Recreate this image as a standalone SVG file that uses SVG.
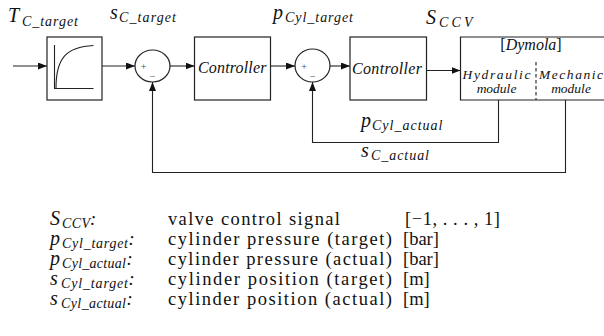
<svg xmlns="http://www.w3.org/2000/svg" width="604" height="336" viewBox="0 0 604 336">
<defs>
<marker id="arr" markerUnits="userSpaceOnUse" markerWidth="9" markerHeight="7" refX="9" refY="3.5" orient="auto">
<path d="M0,0 L9,3.5 L0,7 z" fill="#111"/>
</marker>
<style>
.box{fill:#fff;stroke:#222;stroke-width:1.2}
.ln{fill:none;stroke:#222;stroke-width:1.1}
.it{font-family:"Liberation Serif","DejaVu Serif",serif;font-style:italic;fill:#111}
.rm{font-family:"Liberation Serif","DejaVu Serif",serif;fill:#111}
.big{font-size:20px}
.sub{font-size:14px}
.blk{font-size:16px}
.dym{font-size:13.5px}
.sgn{font-size:10px;fill:#444}
.leg{font-size:18.5px}
</style>
</defs>
<rect width="604" height="336" fill="#fff"/>

<g id="connectors">
<path class="ln" d="M13,66 H47" marker-end="url(#arr)"/>
<path class="ln" d="M102,66 H135" marker-end="url(#arr)"/>
<path class="ln" d="M170,66 H194.5" marker-end="url(#arr)"/>
<path class="ln" d="M270.5,66 H295" marker-end="url(#arr)"/>
<path class="ln" d="M330,66 H350" marker-end="url(#arr)"/>
<path class="ln" d="M426.5,70.5 H460.5" marker-end="url(#arr)"/>
<path class="ln" d="M498.5,100 V142.5 H312.5 V82" marker-end="url(#arr)"/>
<path class="ln" d="M565.5,100 V172.5 H152.5 V82" marker-end="url(#arr)"/>
</g>

<g id="step">
<rect class="box" x="47" y="37" width="55" height="63"/>
<path class="ln" d="M54.5,45 V88.5 H93.5" stroke-width="1.4"/>
<path class="ln" d="M56,88 C56,58 66,47 93.5,45.5" stroke-width="1.3"/>
</g>

<g id="sum1">
<ellipse class="box" cx="152.5" cy="66" rx="17.5" ry="16"/>
<text class="rm sgn" x="143.5" y="69.5" text-anchor="middle">+</text>
<text class="rm sgn" x="152.5" y="80" text-anchor="middle">−</text>
</g>

<g id="controller1">
<rect class="box" x="194.5" y="37" width="76" height="63"/>
<text class="it blk" x="198" y="72.5" textLength="68.5" lengthAdjust="spacing">Controller</text>
</g>

<g id="sum2">
<ellipse class="box" cx="312.5" cy="65.5" rx="17.5" ry="16.5"/>
<text class="rm sgn" x="304" y="69.5" text-anchor="middle">+</text>
<text class="rm sgn" x="312.7" y="79.5" text-anchor="middle">−</text>
</g>

<g id="controller2">
<rect class="box" x="350" y="37" width="76.5" height="63"/>
<text class="it blk" x="352" y="73.5" textLength="70" lengthAdjust="spacing">Controller</text>
</g>

<g id="dymola">
<path class="box" d="M606,37 H460.5 V100 H606"/>
<line class="ln" x1="536" y1="62" x2="536" y2="100" stroke-dasharray="3.5,2.5"/>
<text class="rm blk" x="531" y="50" text-anchor="middle">[<tspan class="it">Dymola</tspan>]</text>
<text class="it dym" x="462.5" y="78.5" textLength="68" lengthAdjust="spacing">Hydraulic</text>
<text class="it dym" x="496.5" y="93" text-anchor="middle">module</text>
<text class="it dym" x="539" y="78.5" textLength="64" lengthAdjust="spacing">Mechanic</text>
<text class="it dym" x="571" y="93" text-anchor="middle">module</text>
</g>

<g id="labels">
<text class="it big" x="8" y="22">T<tspan class="sub" x="22" y="25.5" textLength="56" lengthAdjust="spacing">C_target</tspan></text>
<text class="it big" x="110" y="19">s<tspan class="sub" x="119" y="22" textLength="57" lengthAdjust="spacing">C_target</tspan></text>
<text class="it big" x="273" y="19">p<tspan class="sub" x="285" y="22" textLength="68" lengthAdjust="spacing">Cyl_target</tspan></text>
<text class="it big" x="426" y="24">S<tspan class="sub" x="439" y="27" textLength="33.5" lengthAdjust="spacing">CCV</tspan></text>
<text class="it big" x="361" y="127">p<tspan class="sub" x="372" y="130" textLength="70.5" lengthAdjust="spacing">Cyl_actual</tspan></text>
<text class="it big" x="361" y="157">s<tspan class="sub" x="371" y="160" textLength="58" lengthAdjust="spacing">C_actual</tspan></text>
</g>

<g id="legend">
<text class="it big" x="50" y="225">S<tspan class="sub" x="62" y="228" textLength="28" lengthAdjust="spacing">CCV</tspan><tspan class="rm leg" x="90" y="225">:</tspan></text>
<text class="it big" x="50" y="245">p<tspan class="sub" x="62" y="248" textLength="66" lengthAdjust="spacing">Cyl_target</tspan><tspan class="rm leg" x="128.5" y="245">:</tspan></text>
<text class="it big" x="50" y="265">p<tspan class="sub" x="62" y="268" textLength="64" lengthAdjust="spacing">Cyl_actual</tspan><tspan class="rm leg" x="126.5" y="265">:</tspan></text>
<text class="it big" x="50" y="285">s<tspan class="sub" x="61" y="288" textLength="67" lengthAdjust="spacing">Cyl_target</tspan><tspan class="rm leg" x="128.5" y="285">:</tspan></text>
<text class="it big" x="50" y="305">s<tspan class="sub" x="61" y="308" textLength="65" lengthAdjust="spacing">Cyl_actual</tspan><tspan class="rm leg" x="126.5" y="305">:</tspan></text>

<text class="rm leg" x="168" y="225" textLength="172" lengthAdjust="spacing">valve control signal</text>
<text class="rm leg" x="168" y="245" textLength="224" lengthAdjust="spacing">cylinder pressure (target)</text>
<text class="rm leg" x="168" y="265" textLength="224" lengthAdjust="spacing">cylinder pressure (actual)</text>
<text class="rm leg" x="168" y="285" textLength="224" lengthAdjust="spacing">cylinder position (target)</text>
<text class="rm leg" x="168" y="305" textLength="224" lengthAdjust="spacing">cylinder position (actual)</text>

<text class="rm leg" x="405" y="225" textLength="95" lengthAdjust="spacing">[−1, . . . , 1]</text>
<text class="rm leg" x="403" y="245">[bar]</text>
<text class="rm leg" x="403" y="265">[bar]</text>
<text class="rm leg" x="403" y="285">[m]</text>
<text class="rm leg" x="403" y="305">[m]</text>
</g>
</svg>
